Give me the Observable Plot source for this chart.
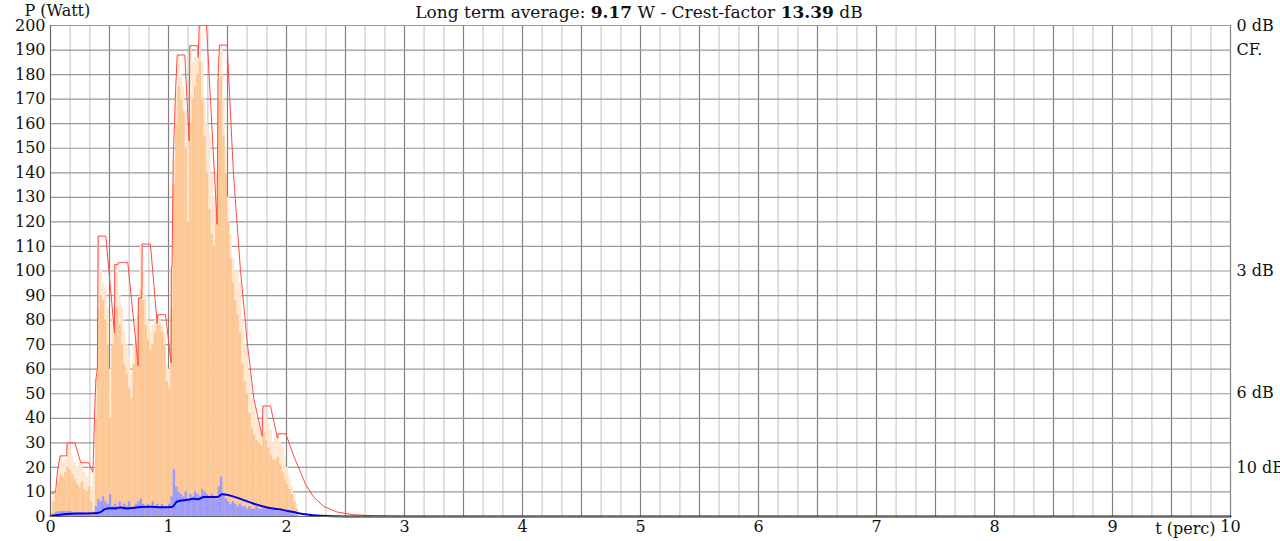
<!DOCTYPE html>
<html>
<head>
<meta charset="utf-8">
<script src="https://cdn.jsdelivr.net/npm/d3@7"></script>
<script src="https://cdn.jsdelivr.net/npm/@observablehq/plot@0.6"></script>
<style>
  html, body { margin: 0; padding: 0; background: #fff; }
  #wrap { position: relative; width: 1280px; height: 541px; overflow: hidden; }
  #title { position: absolute; top: 1px; left: 0; width: 1278px; text-align: center;
           font-family: "DejaVu Serif", serif; font-size: 17px; color: #111; line-height: 22px; }
  #title b { font-weight: bold; }
</style>
</head>
<body>
<div id="wrap">
  <div id="title">Long term average: <b>9.17</b> W - Crest-factor <b>13.39</b> dB</div>
</div>
<script>
// ---------- data ----------
const sampleStep = 0.02;   // t (perc) between successive samples, starting at 0

// instantaneous power, dense body (W)
const powerBody = [
  2, 6, 10, 14, 17, 16, 18, 20, 19, 17,
  15, 13, 12, 14, 11, 10, 12, 6, 2, 40,
  85, 90, 88, 80, 70, 40, 70, 85, 85, 78,
  70, 62, 58, 52, 48, 62, 72, 82, 92, 88,
  78, 72, 68, 70, 75, 78, 78, 75, 70, 55,
  52, 85, 135, 160, 175, 170, 165, 150, 120, 160,
  170, 175, 180, 185, 170, 155, 140, 125, 115, 110,
  125, 170, 180, 155, 140, 120, 105, 95, 88, 82,
  75, 62, 55, 50, 42, 36, 33, 31, 30, 29,
  34, 31, 28, 25, 23, 23, 24, 21, 18, 15,
  13, 11, 9, 6, 3, 0
];
// instantaneous power, highest spikes (W)
const powerPeak = [
  9.5, 9, 11, 19, 24.7, 22, 23, 30, 27, 24,
  22, 20, 21.9, 21.9, 18, 16, 17, 12, 18, 56,
  114, 100, 95, 92, 85, 60, 80, 102.6, 103.4, 90,
  85, 75, 70, 65, 58, 70, 80, 89, 111, 100,
  90, 80, 75, 78, 80, 82.2, 80, 78, 75, 62,
  60, 101.6, 145, 173.5, 188, 180, 175, 165, 150, 191.8,
  185, 187, 190, 200, 185, 170, 160, 156, 140, 130,
  140, 178.7, 192, 170, 150, 130, 115, 105, 100, 100,
  95, 80, 70, 65, 58, 48, 45, 40, 38, 35,
  45, 40, 38, 35, 30, 32, 33.7, 30, 28, 24,
  20, 16, 12, 9, 5, 1
];
// short term power (violet fill, W)
const shortTerm = [
  0.5, 1, 1.5, 2, 2, 2, 2, 2, 2, 1.5,
  1.5, 1.5, 1.5, 1.5, 1, 1, 1, 0.5, 0.5, 4,
  7, 6, 8, 6, 5, 9, 4, 5, 4, 6,
  4, 5, 4, 6, 3, 4, 5, 6, 7, 5,
  4, 5, 4, 6, 4, 5, 4, 5, 4, 3,
  5, 8, 19, 12, 10, 9, 8, 10, 7, 9,
  8, 10, 9, 8, 11, 10, 9, 8, 9, 8,
  7, 12, 16, 9, 7, 6, 5, 6, 5, 4,
  5, 4, 4, 3, 4, 3, 3, 4, 3, 3,
  4, 3, 3, 2.5, 2.5, 3, 2, 2, 2, 2,
  1.5, 1.5, 1, 1, 0.5, 0
];

// peak-hold envelope (red line)
const peakT = [0, 0.036, 0.045, 0.06, 0.082, 0.138, 0.14, 0.206, 0.257, 0.325, 0.359, 0.375, 0.385, 0.397, 0.404,
  0.469, 0.542, 0.545, 0.57, 0.575, 0.655, 0.743, 0.745, 0.774, 0.777, 0.847, 0.904, 0.907, 0.975, 1.022,
  1.025, 1.03, 1.04, 1.06, 1.074, 1.138, 1.175, 1.18, 1.248, 1.252, 1.26, 1.322, 1.412, 1.42, 1.432, 1.497,
  1.55, 1.61, 1.667, 1.723, 1.794, 1.8, 1.864, 1.924, 1.93, 1.994, 2.06, 2.16, 2.23, 2.316, 2.43, 2.57, 2.74, 3.0, 10];
const peakW = [9.5, 9.5, 11, 19, 24.7, 24.7, 30, 30, 21.9, 21.9, 18, 44, 56, 60, 114.2,
  114.2, 74.8, 102.6, 102.6, 103.4, 103.4, 61.4, 89, 89, 111, 111, 78.5, 82.2, 82.2, 62.5,
  101.6, 101.6, 145.3, 173.5, 188, 188, 153, 191.8, 191.8, 187, 200, 200, 119, 178.7, 192, 192,
  140, 100.2, 71, 48, 32.7, 45, 45, 31.9, 33.7, 33.7, 24.8, 13.3, 7.9, 4.1, 1.8, 0.7, 0.3, 0.05, 0];

// long term average (blue line)
const avgT = [0, 0.14, 0.24, 0.367, 0.424, 0.466, 0.508, 0.55, 0.593, 0.65, 0.7, 0.763, 0.85, 0.93, 1.03,
  1.073, 1.158, 1.215, 1.25, 1.3, 1.412, 1.455, 1.525, 1.61, 1.723, 1.836, 1.977, 2.06, 2.175, 2.29, 2.4, 2.6, 10];
const avgW = [0.2, 1.0, 1.2, 1.3, 1.8, 3.1, 3.4, 3.3, 3.7, 3.3, 3.5, 3.9, 4.0, 3.8, 3.9,
  6.1, 6.8, 7.2, 7.0, 7.9, 7.9, 9.1, 8.5, 7.2, 5.2, 3.7, 2.6, 1.8, 0.8, 0.3, 0.1, 0, 0];

// axes / grid / labels
const yTicks = d3.range(0, 201, 10);
const xTicks = d3.range(0, 11, 1);
const xMajorGrid = d3.range(0, 10.01, 0.5);
const xMinorGrid = d3.range(0, 61).map(i => i / 6);
const dbLevels = [0, 3, 6, 10];
const peakMax = 200;

// ---------- build ----------
const samples = powerBody.map((b, i) => ({
  t: i * sampleStep, body: b, peak: powerPeak[i], st: shortTerm[i]
}));
const peakLine = peakT.map((t, i) => ({t, w: peakW[i]}));
const avgLine = avgT.map((t, i) => ({t, w: avgW[i]}));

const chart = Plot.plot({
  width: 1280,
  height: 541,
  marginLeft: 50,
  marginRight: 50,
  marginTop: 25,
  marginBottom: 25,
  x: {domain: [0, 10]},
  y: {domain: [0, 200]},
  style: {fontFamily: "DejaVu Serif", fontSize: "16px", background: "#fff", color: "#111"},
  marks: [
    Plot.ruleX(xMinorGrid, {stroke: "#d8d8d8", strokeWidth: 1.6}),
    Plot.ruleX(xMajorGrid, {stroke: "#808080", strokeWidth: 1}),
    Plot.ruleY(yTicks, {stroke: "#999999", strokeWidth: 1.2}),
    Plot.rectY(samples, {x1: "t", x2: d => d.t + sampleStep, y: "peak", fill: "#fee6cf", inset: 0}),
    Plot.rectY(samples, {x1: "t", x2: d => d.t + sampleStep, y: "body", fill: "#fdc794", inset: 0}),
    Plot.rectY(samples, {x1: "t", x2: d => d.t + sampleStep, y: "st", fill: "#9a9aff", inset: 0}),
    Plot.line(peakLine, {x: "t", y: "w", stroke: "#ff4a4a", strokeWidth: 1}),
    Plot.line(avgLine, {x: "t", y: "w", stroke: "#0000e8", strokeWidth: 2, curve: "monotone-x"}),
    Plot.ruleX([0], {stroke: "#666"}),
    Plot.ruleY([0], {stroke: "#666"}),
    Plot.axisY(yTicks, {tickSize: 0, tickPadding: 5, fontSize: 16, label: null}),
    Plot.axisX(xTicks, {tickSize: 0, tickPadding: 4, fontSize: 16, label: null, tickFormat: d3.format("d")}),
    Plot.text(["P (Watt)"], {frameAnchor: "top-left", dx: -26, dy: -15, lineAnchor: "middle", textAnchor: "start", fontSize: 16}),
    Plot.text(["t (perc)"], {x: 10, y: 0, dx: -15, dy: 12, textAnchor: "end", fontSize: 16}),
    Plot.text(dbLevels, {x: 10, y: d => peakMax / Math.pow(10, d / 10), text: d => `${d} dB`, textAnchor: "start", dx: 6, fontSize: 16}),
    Plot.text(["CF."], {x: 10, y: peakMax, dx: 6, dy: 24, textAnchor: "start", fontSize: 16})
  ]
});
document.getElementById("wrap").prepend(chart);
</script>
</body>
</html>
